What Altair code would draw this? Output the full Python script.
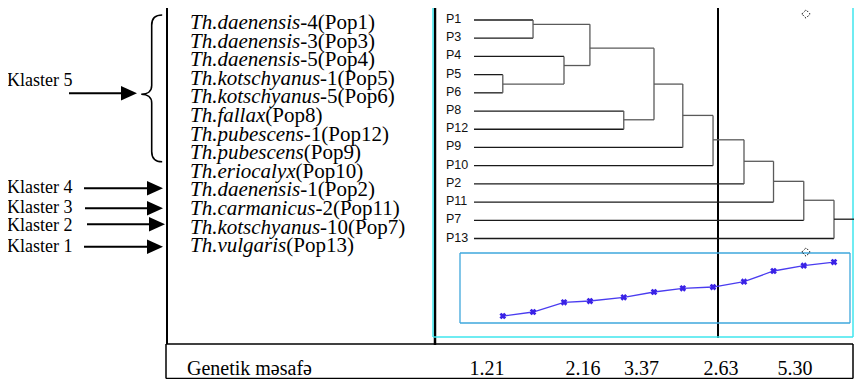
import altair as alt
import pandas as pd

# ------------------------------------------------------------------ data
leaves = ["P1", "P3", "P4", "P5", "P6", "P8", "P12", "P9", "P10", "P2", "P11", "P7", "P13"]
# agglomeration steps: child a, child b, rescaled distance, node position (leaf units)
merge_a = ["P5", "P1", "P4", "n2", "P8", "n4", "n6", "n7", "n8", "n9", "n10", "n11"]
merge_b = ["P6", "P3", "n1", "n3", "P12", "n5", "P9", "P10", "P2", "P11", "P7", "P13"]
merge_dist = [2.0, 4.1, 6.25, 8.05, 10.4, 12.5, 14.5, 16.6, 18.75, 20.8, 22.9, 25.0]
merge_pos = [3.52, 0.24, 2.50, 1.55, 5.48, 3.52, 5.24, 6.58, 7.76, 8.86, 9.90, 10.94]
root_stub = 26.8
# agglomeration coefficient plot (one value per step)
coef_values = [10, 15.7, 29.6, 31.4, 36.7, 44.3, 49.6, 51.4, 59, 74.3, 81.9, 87.1]

species_italic = ["Th.daenensis", "Th.daenensis", "Th.daenensis", "Th.kotschyanus",
                  "Th.kotschyanus", "Th.fallax", "Th.pubescens", "Th.pubescens",
                  "Th.eriocalyx", "Th.daenensis", "Th.carmanicus", "Th.kotschyanus",
                  "Th.vulgaris"]
species_suffix = ["-4(Pop1)", "-3(Pop3)", "-5(Pop4)", "-1(Pop5)", "-5(Pop6)", "(Pop8)",
                  "-1(Pop12)", "(Pop9)", "(Pop10)", "-1(Pop2)", "-2(Pop11)",
                  "-10(Pop7)", "(Pop13)"]
cluster_labels = ["Klaster 5", "Klaster 4", "Klaster 3", "Klaster 2", "Klaster 1"]
distance_title = "Genetik məsafə"
distance_labels = ["1.21", "2.16", "3.37", "2.63", "5.30"]

# ------------------------------------------------------------------ layout (page pixels)
W, H = 846, 371
PX = alt.Scale(domain=[8, 8 + W], range=[0, W])
PY = alt.Scale(domain=[8, 8 + H], range=[0, H])
DX = alt.Scale(domain=[0, 25], range=[474 - 8, 834 - 8])          # dendrogram distance
DY = alt.Scale(domain=[0, 12], range=[20 - 8, 238.5 - 8])          # leaf index
CY = alt.Scale(domain=[0, 100], range=[323 - 8, 253 - 8])          # coefficient plot

SERIF = "Liberation Serif"
SANS = "Liberation Sans"

# italic Times metrics (per 1000 em) to place the roman suffix after the italic name
ITW = {"T": 556, "h": 500, ".": 250, "d": 500, "a": 500, "e": 444, "n": 500, "s": 389,
       "i": 278, "k": 444, "o": 500, "t": 278, "c": 444, "y": 444, "u": 500, "f": 278,
       "l": 278, "x": 444, "p": 500, "b": 500, "r": 389, "m": 722, "v": 444, "g": 500}
SP_FONT = 21
SP_X, SP_Y0, SP_DY = 190, 29, 18.6

# ------------------------------------------------------------------ dendrogram segments
pos = {name: (0.0, float(i)) for i, name in enumerate(leaves)}   # name -> (dist, y)
seg = []
for k, (a, b, d, p) in enumerate(zip(merge_a, merge_b, merge_dist, merge_pos)):
    for c in (a, b):
        cd, cy = pos[c]
        seg.append(dict(x=cd, x2=d, y=cy, y2=cy,
                        col="#1a1a1a" if cd == 0 else "#5a5a5a"))
    seg.append(dict(x=d, x2=d, y=pos[a][1], y2=pos[b][1], col="#5a5a5a"))
    pos["n%d" % (k + 1)] = (d, p)
seg.append(dict(x=merge_dist[-1], x2=root_stub, y=merge_pos[-1], y2=merge_pos[-1],
                col="#1a1a1a"))
seg_df = pd.DataFrame(seg)

dendro = alt.Chart(seg_df).mark_rule(strokeWidth=1.3).encode(
    x=alt.X("x:Q", scale=DX, axis=None), x2="x2",
    y=alt.Y("y:Q", scale=DY, axis=None), y2="y2",
    color=alt.Color("col:N", scale=None),
)

leaf_df = pd.DataFrame({"name": leaves, "i": list(range(len(leaves)))})
leaf_text = alt.Chart(leaf_df).mark_text(
    align="left", baseline="middle", font=SANS, fontSize=12.5, dx=-28, dy=-1, color="#111"
).encode(
    x=alt.X("xx:Q", scale=DX, axis=None),
    y=alt.Y("i:Q", scale=DY, axis=None),
    text="name:N",
).transform_calculate(xx="0")

# ------------------------------------------------------------------ coefficient plot
coef_df = pd.DataFrame({"d": merge_dist, "v": coef_values})
coef_line = alt.Chart(coef_df).mark_line(color="#4a3cf0", strokeWidth=1.3).encode(
    x=alt.X("d:Q", scale=DX, axis=None),
    y=alt.Y("v:Q", scale=CY, axis=None),
)
coef_pts = alt.Chart(coef_df).mark_point(
    shape="cross", angle=45, filled=True, size=46, color="#3a22e6", opacity=1
).encode(
    x=alt.X("d:Q", scale=DX, axis=None),
    y=alt.Y("v:Q", scale=CY, axis=None),
)

# ------------------------------------------------------------------ frames / lines
rules = [
    # black frame round the species list
    (167, 5, 436, 5, "black", 1.5),
    (167, 5, 167, 344, "black", 2),
    (435, 1, 435, 345, "black", 2.5),
    # cut line
    (718, 1, 718, 338, "black", 2),
    # distance box
    (166, 344, 853, 344, "black", 1.5),
    (166, 344, 166, 378.5, "black", 1.5),
    (853, 344, 853, 378.5, "black", 1.5),
    (166, 378.5, 853, 378.5, "black", 1.5),
    # cyan dendrogram frame
    (433, 5, 853, 5, "#3fe6ee", 1.5),
    (433, 5, 433, 337, "#3fe6ee", 1.5),
    (853, 5, 853, 337, "#3fe6ee", 1.5),
    (433, 337, 853, 337, "#3fe6ee", 1.5),
    # blue frame of coefficient plot
    (460, 253, 850, 253, "#3ea7dc", 1.3),
    (460, 253, 460, 323, "#3ea7dc", 1.3),
    (850, 253, 850, 323, "#3ea7dc", 1.3),
    (460, 323, 850, 323, "#3ea7dc", 1.3),
    # arrow shafts
    (69, 93.3, 125, 93.3, "black", 2),
    (84, 188.3, 151, 188.3, "black", 2),
    (85, 208.3, 151, 208.3, "black", 2),
    (87, 224.3, 153, 224.3, "black", 2),
    (84, 246.7, 151, 246.7, "black", 2),
]
rules_df = pd.DataFrame(rules, columns=["x", "y", "x2", "y2", "col", "sw"])
frame = alt.Chart(rules_df).mark_rule().encode(
    x=alt.X("x:Q", scale=PX, axis=None), x2="x2",
    y=alt.Y("y:Q", scale=PY, axis=None), y2="y2",
    color=alt.Color("col:N", scale=None),
    strokeWidth=alt.StrokeWidth("sw:Q", scale=None),
)

heads_df = pd.DataFrame({"x": [129, 155, 155, 157, 155],
                         "y": [93.3, 188.3, 208.3, 224.3, 246.7]})
heads = alt.Chart(heads_df).mark_point(
    shape="M-1,-0.9L1,0L-1,0.9Z", filled=True, size=256, color="black", opacity=1
).encode(x=alt.X("x:Q", scale=PX, axis=None), y=alt.Y("y:Q", scale=PY, axis=None))

BRACE = ("M0.143,-1 C0.05,-1 0,-0.96 0,-0.86 L0,-0.04 C0,0.04 -0.06,0.08 -0.143,0.08 "
         "C-0.06,0.08 0,0.12 0,0.2 L0,0.86 C0,0.96 0.05,1 0.143,1")
brace = alt.Chart(pd.DataFrame({"x": [151.7], "y": [88.35]})).mark_point(
    shape=BRACE, filled=False, size=146.7 ** 2, color="black", strokeWidth=1.6, opacity=1
).encode(x=alt.X("x:Q", scale=PX, axis=None), y=alt.Y("y:Q", scale=PY, axis=None))

diam = alt.Chart(pd.DataFrame({"x": [806, 806], "y": [14, 252]})).mark_point(
    shape="diamond", filled=False, size=70, color="#222", strokeWidth=1,
    strokeDash=[2, 1.5], opacity=1
).encode(x=alt.X("x:Q", scale=PX, axis=None), y=alt.Y("y:Q", scale=PY, axis=None))

# ------------------------------------------------------------------ texts
def italic_width(s):
    return sum(ITW.get(ch, 500) for ch in s) * SP_FONT / 1000.0

sp_df = pd.DataFrame({
    "it": species_italic,
    "rm": species_suffix,
    "y": [SP_Y0 + SP_DY * i for i in range(len(species_italic))],
    "x": [SP_X] * len(species_italic),
    "x_rm": [SP_X + italic_width(s) for s in species_italic],
})
sp_it = alt.Chart(sp_df).mark_text(
    align="left", baseline="alphabetic", font=SERIF, fontSize=SP_FONT,
    fontStyle="italic", color="black"
).encode(x=alt.X("x:Q", scale=PX, axis=None), y=alt.Y("y:Q", scale=PY, axis=None),
         text="it:N")
sp_rm = alt.Chart(sp_df).mark_text(
    align="left", baseline="alphabetic", font=SERIF, fontSize=SP_FONT, color="black"
).encode(x=alt.X("x_rm:Q", scale=PX, axis=None), y=alt.Y("y:Q", scale=PY, axis=None),
         text="rm:N")

kl_df = pd.DataFrame({"t": cluster_labels, "x": [7] * 5,
                      "y": [86, 192.5, 212.5, 231, 252]})
kl = alt.Chart(kl_df).mark_text(
    align="left", baseline="alphabetic", font=SERIF, fontSize=18, color="black"
).encode(x=alt.X("x:Q", scale=PX, axis=None), y=alt.Y("y:Q", scale=PY, axis=None),
         text="t:N")

gm = alt.Chart(pd.DataFrame({"t": [distance_title], "x": [187], "y": [374.5]})).mark_text(
    align="left", baseline="alphabetic", font=SERIF, fontSize=20, color="black"
).encode(x=alt.X("x:Q", scale=PX, axis=None), y=alt.Y("y:Q", scale=PY, axis=None),
         text="t:N")

num_df = pd.DataFrame({"t": distance_labels, "x": [487, 583, 641.5, 721, 795],
                       "y": [374.5] * 5})
nums = alt.Chart(num_df).mark_text(
    align="center", baseline="alphabetic", font=SERIF, fontSize=20, color="black"
).encode(x=alt.X("x:Q", scale=PX, axis=None), y=alt.Y("y:Q", scale=PY, axis=None),
         text="t:N")

# ------------------------------------------------------------------ compose
chart = alt.layer(
    frame, heads, brace, diam, dendro, leaf_text, coef_line, coef_pts,
    sp_it, sp_rm, kl, gm, nums
).resolve_scale(
    x="independent", y="independent"
).properties(
    width=W, height=H, padding=0, autosize="none", background="white"
).configure_view(stroke=None)

chart.save("out.html", embed_options={"renderer": "svg", "actions": False})
